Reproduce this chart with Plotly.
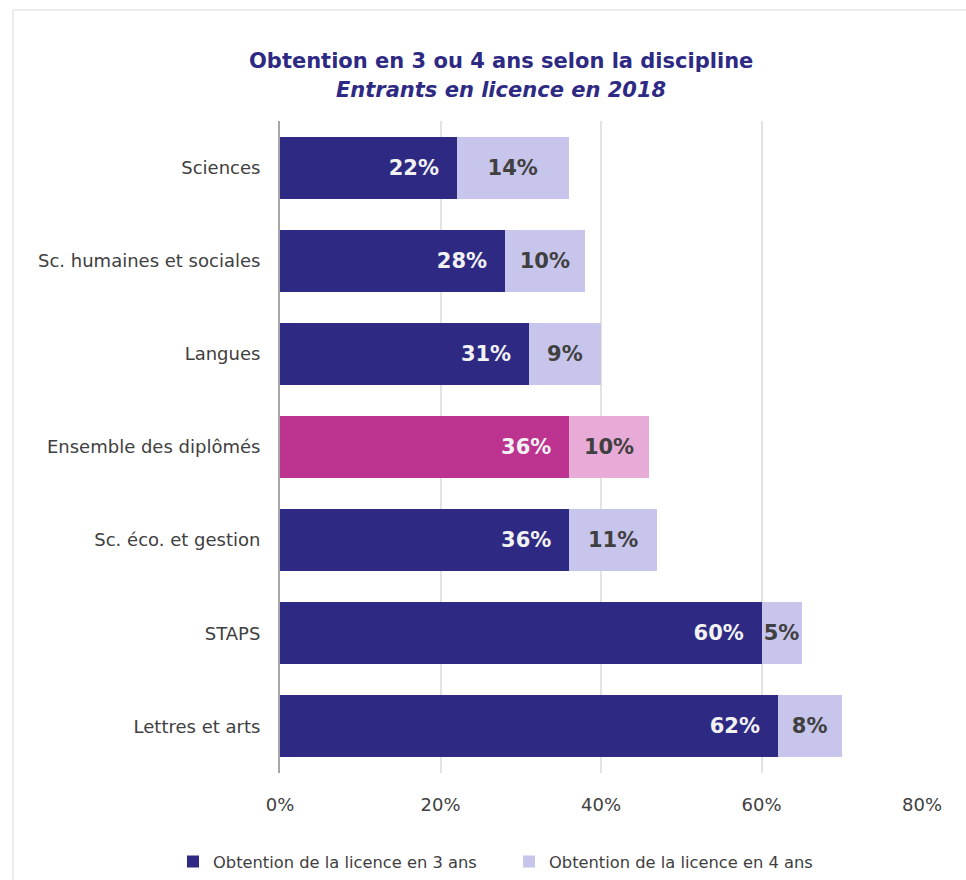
import plotly.graph_objects as go

# Categories (top to bottom) and completion rates (%)
categories = [
    "Sciences",
    "Sc. humaines et sociales",
    "Langues",
    "Ensemble des diplômés",
    "Sc. éco. et gestion",
    "STAPS",
    "Lettres et arts",
]
licence_3_ans = [22, 28, 31, 36, 36, 60, 62]
licence_4_ans = [14, 10, 9, 10, 11, 5, 8]
x_ticks = [0, 20, 40, 60, 80]
x_tick_labels = ["0%", "20%", "40%", "60%", "80%"]

NAVY = "#2E2A84"
LAVENDER = "#C8C5EC"
PINK = "#BC3390"
PINK_LIGHT = "#E8AAD6"
HIGHLIGHT = "Ensemble des diplômés"

colors_3 = [PINK if c == HIGHLIGHT else NAVY for c in categories]
colors_4 = [PINK_LIGHT if c == HIGHLIGHT else LAVENDER for c in categories]

W, H = 966, 880
ML, MR, MT, MB = 280, 44, 121, 107

fig = go.Figure()
fig.add_trace(go.Bar(
    y=categories, x=licence_3_ans, orientation="h",
    name="Obtention de la licence en 3 ans", legend="legend",
    marker=dict(color=colors_3, line=dict(width=0)),
    text=[f"{v}%\u00a0\u00a0" for v in licence_3_ans],
    textposition="inside", insidetextanchor="end", textangle=0,
    textfont=dict(family="DejaVu Sans", size=21, color="#F2F2F2", weight="bold"),
    hoverinfo="skip",
))
fig.add_trace(go.Bar(
    y=categories, x=licence_4_ans, orientation="h",
    name="Obtention de la licence en 4 ans", legend="legend2",
    marker=dict(color=colors_4, line=dict(width=0)),
    text=[f"{v}%" for v in licence_4_ans],
    textposition="inside", insidetextanchor="middle", textangle=0,
    textfont=dict(family="DejaVu Sans", size=21, color="#404040", weight="bold"),
    hoverinfo="skip",
))

def px_x(p):
    return (p - ML) / (W - ML - MR)

def px_y(p):
    return (H - MB - p) / (H - MT - MB)

legend_style = dict(
    orientation="h", xref="paper", yref="paper",
    xanchor="left", y=px_y(862), yanchor="middle",
    font=dict(size=16.3, color="#404040"), itemwidth=30,
)

fig.update_layout(
    width=W, height=H,
    margin=dict(l=ML, r=MR, t=MT, b=MB, pad=0, autoexpand=False),
    barmode="stack", bargap=1/3,
    plot_bgcolor="white", paper_bgcolor="white",
    font=dict(family="DejaVu Sans", color="#404040"),
    uniformtext=dict(minsize=21, mode="show"),
    showlegend=True,
    legend=dict(x=px_x(173), **legend_style),
    legend2=dict(x=px_x(509), **legend_style),
    xaxis=dict(
        range=[0, 80], tickvals=x_ticks, ticktext=x_tick_labels,
        showgrid=True, gridcolor="#E3E3E3", gridwidth=1.5,
        zeroline=False, showline=False,
        tickfont=dict(size=18, color="#404040"),
        ticks="", ticklabelstandoff=19,
    ),
    yaxis=dict(
        autorange="reversed", showgrid=False, zeroline=False,
        showline=True, linecolor="#A6A6A6", linewidth=2,
        tickfont=dict(size=18, color="#404040"),
        ticks="", ticklabelstandoff=14,
    ),
    annotations=[
        dict(text="<b>Obtention en 3 ou 4 ans selon la discipline</b>",
             xref="paper", yref="paper", x=px_x(501), y=px_y(61),
             xanchor="center", yanchor="middle", showarrow=False,
             font=dict(size=21, color=NAVY)),
        dict(text="<b><i>Entrants en licence en 2018</i></b>",
             xref="paper", yref="paper", x=px_x(501), y=px_y(90),
             xanchor="center", yanchor="middle", showarrow=False,
             font=dict(size=21, color=NAVY)),
    ],
    shapes=[
        # outer frame: left and top edges
        dict(type="line", xref="paper", yref="paper", layer="below",
             x0=px_x(13), x1=px_x(13), y0=px_y(10), y1=px_y(H),
             line=dict(color="#E6E6E6", width=1.5)),
        dict(type="line", xref="paper", yref="paper", layer="below",
             x0=px_x(13), x1=px_x(W), y0=px_y(10), y1=px_y(10),
             line=dict(color="#E6E6E6", width=1.5)),
    ],
)

fig.write_html("out.html")
